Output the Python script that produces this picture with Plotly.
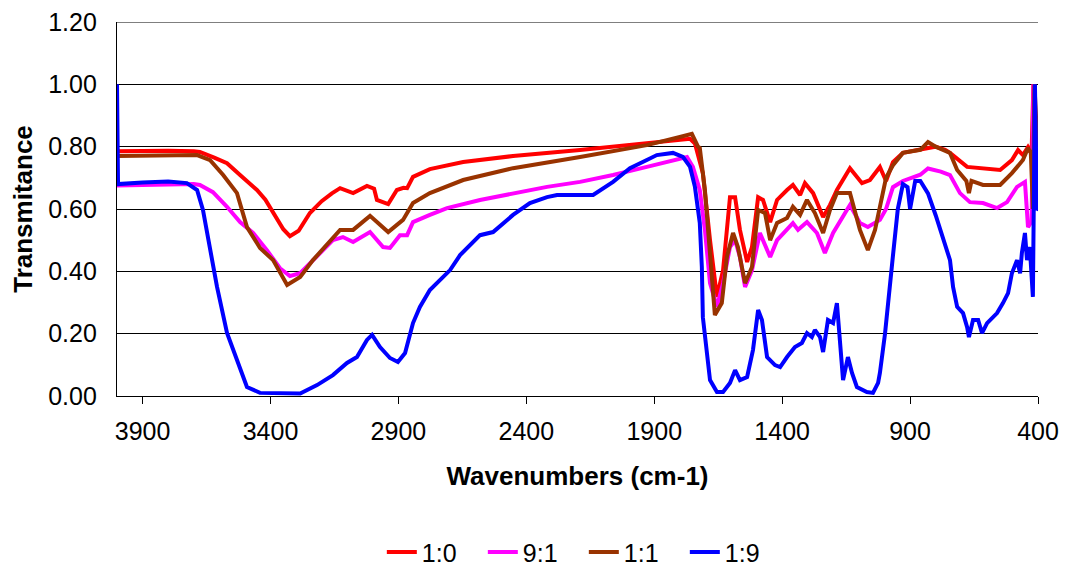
import plotly.graph_objects as go

# ---- data (wavenumber cm-1, transmittance) ----
wn_10 = [4000, 3900, 3800, 3700, 3676, 3620, 3570, 3519, 3453, 3420, 3390, 3350, 3324, 3290, 3246, 3200, 3160, 3128,
         3077, 3023, 2995, 2984, 2940, 2906, 2880, 2866, 2843, 2777, 2647, 2452, 2190, 1929, 1800, 1760, 1741, 1710,
         1682, 1655, 1631, 1604, 1584, 1565, 1537, 1518, 1494, 1475, 1447, 1420, 1381, 1358, 1330, 1311, 1279, 1240,
         1213, 1186, 1135, 1088, 1057, 1018, 994, 967, 928, 860, 802, 763, 744, 677, 615, 548, 502, 478, 459, 439,
         425, 418, 412, 406, 400]
t_10 = [0.785, 0.787, 0.787, 0.785, 0.783, 0.765, 0.747, 0.709, 0.661, 0.630, 0.587, 0.535, 0.513, 0.530, 0.587, 0.625,
        0.650, 0.667, 0.651, 0.674, 0.665, 0.629, 0.616, 0.661, 0.668, 0.667, 0.703, 0.728, 0.751, 0.770, 0.789, 0.812,
        0.824, 0.825, 0.810, 0.715, 0.500, 0.318, 0.404, 0.638, 0.638, 0.533, 0.430, 0.478, 0.638, 0.629, 0.558, 0.629,
        0.661, 0.677, 0.645, 0.683, 0.651, 0.574, 0.613, 0.661, 0.731, 0.683, 0.693, 0.735, 0.690, 0.750, 0.780, 0.790,
        0.800, 0.790, 0.780, 0.735, 0.731, 0.725, 0.757, 0.789, 0.773, 0.799, 0.780, 1.000, 0.900, 0.760, 0.750]

wn_91 = [4000, 3800, 3700, 3676, 3625, 3570, 3519, 3468, 3414, 3363, 3324, 3284, 3234, 3156, 3117, 3077, 3011, 2960,
         2933, 2894, 2866, 2843, 2777, 2710, 2581, 2452, 2319, 2190, 2061, 1929, 1800, 1772, 1749, 1722, 1702, 1682,
         1655, 1631, 1604, 1584, 1565, 1545, 1518, 1487, 1447, 1420, 1358, 1338, 1303, 1264, 1233, 1201, 1147, 1135,
         1096, 1065, 1018, 994, 967, 928, 860, 830, 780, 744, 705, 666, 615, 560, 521, 482, 451, 439, 425, 418, 412,
         406, 400]
t_91 = [0.675, 0.680, 0.680, 0.677, 0.654, 0.607, 0.558, 0.523, 0.468, 0.410, 0.385, 0.394, 0.436, 0.500, 0.510, 0.494,
        0.526, 0.478, 0.475, 0.516, 0.516, 0.558, 0.581, 0.603, 0.629, 0.651, 0.671, 0.687, 0.709, 0.735, 0.764, 0.767,
        0.735, 0.661, 0.533, 0.362, 0.286, 0.362, 0.478, 0.500, 0.446, 0.350, 0.404, 0.523, 0.446, 0.500, 0.555, 0.533,
        0.558, 0.523, 0.459, 0.523, 0.597, 0.613, 0.555, 0.542, 0.565, 0.600, 0.670, 0.690, 0.710, 0.730, 0.720, 0.709,
        0.651, 0.622, 0.619, 0.603, 0.622, 0.671, 0.687, 0.542, 0.560, 1.000, 0.950, 0.700, 0.680]

wn_11 = [4000, 3800, 3687, 3636, 3585, 3531, 3492, 3441, 3390, 3335, 3284, 3234, 3128, 3077, 3011, 2940, 2882, 2843,
         2777, 2647, 2452, 2190, 1929, 1800, 1753, 1729, 1722, 1702, 1682, 1663, 1636, 1616, 1592, 1573, 1545, 1518,
         1494, 1467, 1447, 1420, 1381, 1358, 1330, 1303, 1272, 1240, 1213, 1186, 1135, 1096, 1065, 1037, 1018, 994,
         967, 928, 860, 830, 800, 744, 716, 680, 670, 660, 615, 548, 502, 459, 439, 428, 420, 414, 408, 400]
t_11 = [0.770, 0.773, 0.773, 0.757, 0.709, 0.651, 0.542, 0.475, 0.436, 0.356, 0.382, 0.436, 0.533, 0.533, 0.578, 0.526,
        0.565, 0.619, 0.651, 0.693, 0.731, 0.767, 0.805, 0.831, 0.841, 0.800, 0.796, 0.661, 0.446, 0.260, 0.298, 0.446,
        0.523, 0.478, 0.362, 0.414, 0.597, 0.587, 0.500, 0.555, 0.571, 0.607, 0.581, 0.629, 0.587, 0.523, 0.597, 0.651,
        0.651, 0.533, 0.468, 0.533, 0.607, 0.700, 0.740, 0.780, 0.790, 0.815, 0.800, 0.780, 0.725, 0.690, 0.651, 0.690,
        0.677, 0.677, 0.715, 0.757, 0.796, 0.780, 0.600, 1.000, 0.900, 0.800]

wn_19 = [4000, 3996, 3900, 3800, 3727, 3687, 3664, 3636, 3609, 3570, 3531, 3492, 3441, 3284, 3218, 3156, 3101, 3062,
         3023, 3003, 2972, 2933, 2902, 2874, 2843, 2816, 2777, 2737, 2698, 2659, 2581, 2530, 2452, 2386, 2319, 2280,
         2139, 2061, 1995, 1929, 1890, 1827, 1788, 1760, 1741, 1722, 1714, 1710, 1694, 1682, 1655, 1631, 1604, 1584,
         1565, 1537, 1514, 1494, 1479, 1459, 1428, 1408, 1381, 1350, 1323, 1303, 1284, 1272, 1252, 1240, 1221, 1201,
         1186, 1174, 1162, 1143, 1127, 1108, 1069, 1045, 1025, 1018, 998, 967, 948, 928, 910, 900, 880, 860, 830, 800,
         770, 744, 732, 716, 693, 677, 670, 654, 634, 619, 599, 560, 537, 517, 502, 482, 470, 463, 451, 443, 432, 420,
         412, 404, 400]
t_19 = [1.000, 0.680, 0.685, 0.688, 0.683, 0.661, 0.597, 0.478, 0.350, 0.202, 0.115, 0.029, 0.010, 0.008, 0.035, 0.067,
        0.106, 0.125, 0.180, 0.196, 0.157, 0.122, 0.109, 0.138, 0.234, 0.286, 0.340, 0.372, 0.404, 0.452, 0.516, 0.526,
        0.581, 0.619, 0.638, 0.645, 0.645, 0.687, 0.731, 0.757, 0.773, 0.780, 0.767, 0.735, 0.671, 0.555, 0.414, 0.253,
        0.125, 0.051, 0.013, 0.013, 0.042, 0.083, 0.051, 0.061, 0.148, 0.276, 0.244, 0.125, 0.099, 0.093, 0.125, 0.157,
        0.170, 0.202, 0.189, 0.212, 0.189, 0.141, 0.244, 0.234, 0.298, 0.189, 0.051, 0.125, 0.074, 0.029, 0.013, 0.010,
        0.042, 0.074, 0.200, 0.450, 0.600, 0.680, 0.670, 0.600, 0.690, 0.690, 0.650, 0.580, 0.500, 0.436, 0.350, 0.286,
        0.266, 0.221, 0.189, 0.244, 0.244, 0.202, 0.234, 0.266, 0.298, 0.330, 0.394, 0.436, 0.394, 0.459, 0.523, 0.436,
        0.478, 0.318, 1.000, 0.597, 0.600]

series = [
    ("1:0", wn_10, t_10, "#FF0000"),
    ("9:1", wn_91, t_91, "#FF00FF"),
    ("1:1", wn_11, t_11, "#993300"),
    ("1:9", wn_19, t_19, "#0000FF"),
]

x_ticks = [3900, 3400, 2900, 2400, 1900, 1400, 900, 400]
y_ticks = [0.0, 0.2, 0.4, 0.6, 0.8, 1.0, 1.2]

fig = go.Figure()
for name, x, y, c in series:
    fig.add_trace(go.Scatter(x=x, y=y, mode="lines", name=name,
                             line=dict(color=c, width=4)))

font = "Liberation Sans, Arial, sans-serif"
# page body adds an 8px offset, so the figure is 8px smaller and shifted
fig.update_layout(
    width=1059, height=558,
    margin=dict(l=109, r=29, t=14, b=170),
    paper_bgcolor="white", plot_bgcolor="white",
    font=dict(family=font, size=25, color="black"),
    showlegend=True,
    legend=dict(orientation="h", xref="container", yref="container",
                x=0.353, xanchor="left", y=0.0245, yanchor="middle",
                font=dict(size=25), itemwidth=30, tracegroupgap=0,
                entrywidth=56, entrywidthmode="pixels"),
    xaxis=dict(range=[4000, 400], tickvals=x_ticks, ticktext=[str(v) for v in x_ticks],
               showgrid=False, showline=True, linecolor="black", linewidth=1.3,
               ticks="outside", ticklen=7, tickcolor="black", tickwidth=1.3,
               ticklabelstandoff=6, zeroline=False, automargin=False,
               ticklabeloverflow="allow",
               title=dict(text="<b>Wavenumbers (cm-1)</b>", font=dict(size=26), standoff=22)),
    yaxis=dict(range=[0, 1.2], tickvals=y_ticks, ticktext=[f"{v:.2f}" for v in y_ticks],
               showgrid=True, gridcolor="black", gridwidth=1.2,
               showline=True, linecolor="black", linewidth=1.3,
               ticks="", ticklabelstandoff=14, zeroline=False, automargin=False,
               ticklabeloverflow="allow",
               title=dict(text="<b>Transmitance</b>", font=dict(size=26), standoff=12)),
)
# top gridline at 1.20 (plotly omits gridlines on the range edge)
fig.add_shape(type="line", xref="paper", yref="y", x0=0, x1=1, y0=1.2, y1=1.2,
              line=dict(color="black", width=1.2), layer="below")

fig.write_html("out.html")
